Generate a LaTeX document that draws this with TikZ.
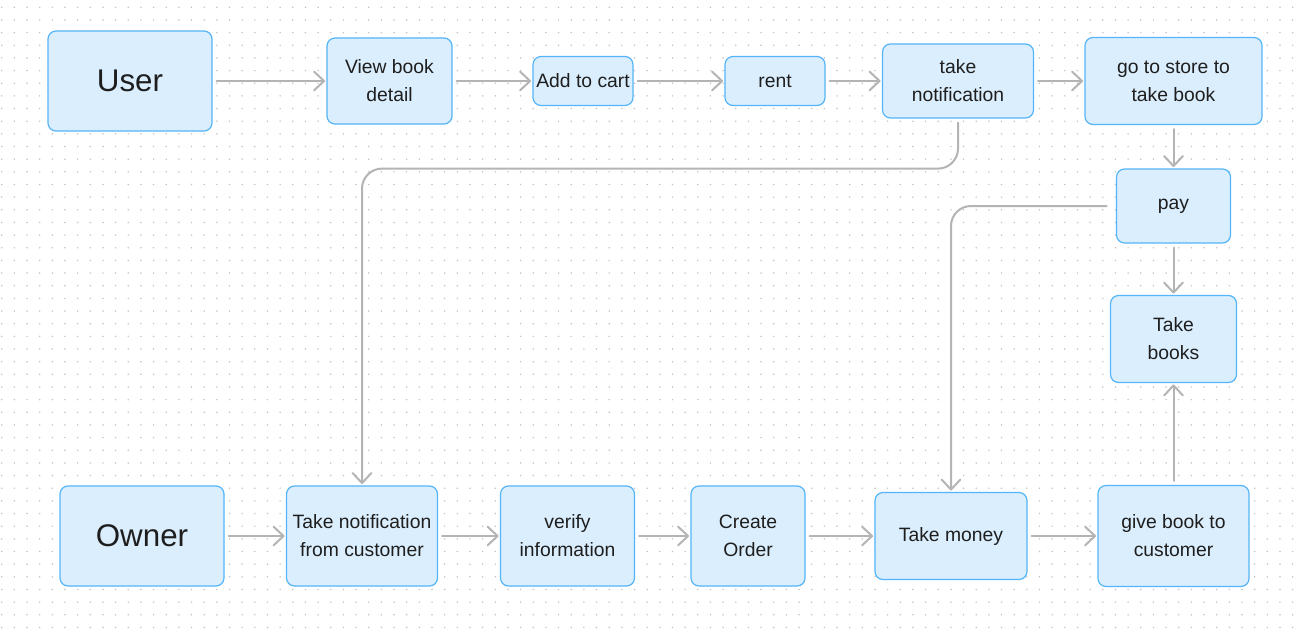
\documentclass[tikz,border=0pt]{standalone}
\usepackage{fontspec}
\setmainfont{Liberation Sans}
\usetikzlibrary{arrows.meta}
\usetikzlibrary{positioning}
\definecolor{boxfill}{RGB}{219,238,253}
\definecolor{boxline}{RGB}{84,181,248}
\definecolor{flowgray}{RGB}{180,180,180}
\definecolor{textdark}{RGB}{30,30,30}
\definecolor{dotgray}{RGB}{196,196,196}
\tikzset{
  boxsize/.style 2 args={minimum width=#1*0.75pt, minimum height=#2*0.75pt},
  stepnode/.style={draw=boxline, fill=boxfill, line width=0.9pt, rounded corners=6pt,
    text=textdark, align=center, inner sep=0pt, font=\fontsize{14.5}{21}\selectfont},
  actor/.style={stepnode, font=\fontsize{23.5}{28}\selectfont},
  flow/.style={draw=flowgray, line width=1.5pt, line cap=round, rounded corners=15pt,
    -{Straight Barb[length=7.5pt,width=14pt,round]}, shorten <=3pt, shorten >=1pt}
}

\begin{document}
\begin{tikzpicture}[x=0.75pt, y=-0.75pt]

  \useasboundingbox (0,0) rectangle (1301,635);
  \fill[white] (0,0) rectangle (1301,635);
  % dotted canvas
  \foreach \i in {0,...,102} {
    \foreach \j in {0,...,49} {
      \fill[dotgray] (1.7+\i*12.656, 7.3+\j*12.656) circle (0.85);
    }
  }

  % user side
  \node [actor, boxsize={164}{100}] (user) at (130,81) {User};
  \node [stepnode, boxsize={125}{86}] (view) at (389.5,81) {View book\\detail};
  \node [stepnode, boxsize={100}{49}] (cart) at (583,81) {Add to cart};
  \node [stepnode, boxsize={100}{49}] (rent) at (775,81) {rent};
  \node [stepnode, boxsize={151}{74}] (notif) at (958,81) {take\\notification};
  \node [stepnode, boxsize={177}{87}] (store) at (1173.5,81) {go to store to\\take book};
  \node [stepnode, boxsize={114}{74}] (pay) at (1173.5,206) {pay};
  \node [stepnode, boxsize={126}{87}] (books) at (1173.5,339) {Take\\books};

  % owner side
  \node [actor, boxsize={164}{100}] (owner) at (142,536) {Owner};
  \node [stepnode, boxsize={151}{100}] (tnfc) at (362,536) {Take notification\\from customer};
  \node [stepnode, boxsize={134}{100}] (verify) at (567.5,536) {verify\\information};
  \node [stepnode, boxsize={114}{100}] (order) at (748,536) {Create\\Order};
  \node [stepnode, boxsize={152}{87}] (money) at (951,536) {Take money};
  \node [stepnode, boxsize={151}{101}] (give) at (1173.5,536) {give book to\\customer};

  \draw[flow] (user) -- (view);
  \draw[flow] (view) -- (cart);
  \draw[flow] (cart) -- (rent);
  \draw[flow] (rent) -- (notif);
  \draw[flow] (notif) -- (store);
  \draw[flow] (store) -- (pay);
  \draw[flow] (pay) -- (books);
  \draw[flow] (notif.south) -- ++(0,50) -| (tnfc.north);
  \draw[flow, shorten <=7pt] (pay.west) -| (money.north);

  \draw[flow] (owner) -- (tnfc);
  \draw[flow] (tnfc) -- (verify);
  \draw[flow] (verify) -- (order);
  \draw[flow] (order) -- (money);
  \draw[flow] (money) -- (give);
  \draw[flow] (give) -- (books);

\end{tikzpicture}
\end{document}
